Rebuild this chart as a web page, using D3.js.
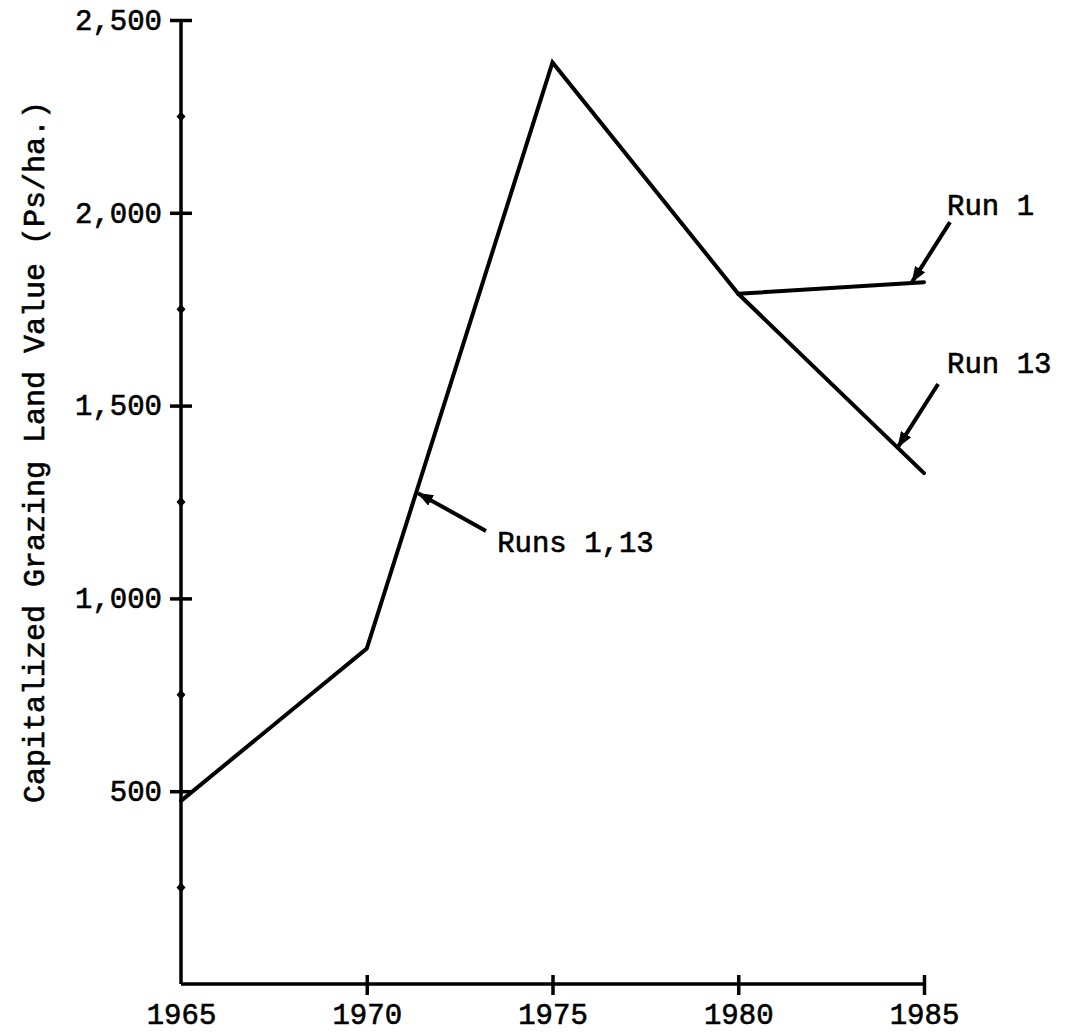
<!DOCTYPE html>
<html>
<head>
<meta charset="utf-8">
<script src="https://cdn.jsdelivr.net/npm/d3@7"></script>
<style>
  html, body { margin: 0; padding: 0; background: #fff; }
  svg { display: block; }
  text { font-family: "Liberation Mono", "DejaVu Sans Mono", monospace; fill: #000; }
</style>
</head>
<body>
<svg id="chart" width="1065" height="1036"></svg>
<script>
// Years on the horizontal axis
const years = [1965, 1970, 1975, 1980, 1985];
// Shared path of both runs up to 1980 (Ps/ha.)
const sharedValues = [475, 870, 2390, 1790];
// Values after 1980 for each run
const run1Tail = [1790, 1820];
const run13Tail = [1790, 1325];
const tailYears = [1980, 1985];

// Axis tick values
const yMajorTicks = [500, 1000, 1500, 2000, 2500];
const yMinorTicks = [250, 750, 1250, 1750, 2250];
const xTicks = [1965, 1970, 1975, 1980, 1985];

// Callouts: label text, label anchor, arrow tail and arrow head in data units
const calloutLabels = ["Runs 1,13", "Run 1", "Run 13"];
const calloutText = [[1973.51, 1120], [1985.62, 1994], [1985.62, 1585]];
const calloutTail = [[1973.21, 1175], [1985.70, 1976], [1985.38, 1556]];
const calloutHead = [[1971.38, 1273], [1984.68, 1821], [1984.30, 1393]];

const svg = d3.select("#chart");

const x = d3.scaleLinear().domain([1965, 1985]).range([181, 924]);
const y = d3.scaleLinear().domain([0, 2500]).range([984, 20]);

const ink = "#000";
const labelSize = 29;

// Arrowhead marker
svg.append("defs").append("marker")
  .attr("id", "arrow")
  .attr("viewBox", "0 0 16 12")
  .attr("refX", 15).attr("refY", 6)
  .attr("markerWidth", 16).attr("markerHeight", 12)
  .attr("markerUnits", "userSpaceOnUse")
  .attr("orient", "auto")
  .append("path")
  .attr("d", "M0,0 L16,6 L0,12 Z")
  .attr("fill", ink);

// Y axis
const yAxis = d3.axisLeft(y).tickValues(yMajorTicks).tickSize(10).tickPadding(10)
  .tickFormat(d3.format(","));
const gy = svg.append("g").attr("transform", `translate(${x(1965)},0)`).call(yAxis);
gy.select(".domain").attr("stroke", ink).attr("stroke-width", 3.5)
  .attr("d", `M0,${y(0)}V${y(2500)}`);
gy.selectAll(".tick line").attr("x1", 11).attr("x2", -11)
  .attr("stroke", ink).attr("stroke-width", 3.5);
gy.selectAll(".tick text")
  .attr("font-size", labelSize).attr("x", -19)
  .style("stroke", ink).style("stroke-width", 0.6);

// Minor tick dots on the y axis
svg.append("g").selectAll("path").data(yMinorTicks).join("path")
  .attr("transform", d => `translate(${x(1965)},${y(d)})`)
  .attr("d", "M0,-5 L4.5,0 L0,5 L-4.5,0 Z")
  .attr("fill", ink);

// X axis
const xAxis = d3.axisBottom(x).tickValues(xTicks).tickSize(10).tickPadding(14)
  .tickFormat(d3.format("d"));
const gx = svg.append("g").attr("transform", `translate(0,${y(0)})`).call(xAxis);
gx.select(".domain").attr("stroke", ink).attr("stroke-width", 3.5)
  .attr("d", `M${x(1965)},0H${x(1985)}`);
gx.selectAll(".tick line").attr("y1", -9).attr("y2", 11)
  .attr("stroke", ink).attr("stroke-width", 3.5)
  .filter(d => d === 1965).remove();
gx.selectAll(".tick text")
  .attr("font-size", labelSize)
  .attr("y", 40).attr("dy", null)
  .style("stroke", ink).style("stroke-width", 0.6);

// Y axis title
svg.append("text")
  .attr("transform", `translate(44,452) rotate(-90)`)
  .attr("text-anchor", "middle")
  .attr("font-size", 30)
  .style("stroke", ink).style("stroke-width", 0.6)
  .text("Capitalized Grazing Land Value (Ps/ha.)");

// Data lines
const line = d3.line().x(d => x(d[0])).y(d => y(d[1])).curve(d3.curveLinear);
const sharedPts = years.slice(0, 4).map((yr, i) => [yr, sharedValues[i]]);
const run1Pts = tailYears.map((yr, i) => [yr, run1Tail[i]]);
const run13Pts = tailYears.map((yr, i) => [yr, run13Tail[i]]);

svg.append("g").selectAll("path")
  .data([sharedPts.concat([run13Pts[1]]), run1Pts])
  .join("path")
  .attr("d", line)
  .attr("fill", "none")
  .attr("stroke", ink)
  .attr("stroke-width", 4)
  .attr("stroke-linejoin", "miter")
  .attr("stroke-linecap", "round");

// Callout arrows and labels
const callouts = calloutLabels.map((t, i) => ({
  text: t, at: calloutText[i], tail: calloutTail[i], head: calloutHead[i]
}));
svg.append("g").selectAll("line").data(callouts).join("line")
  .attr("x1", d => x(d.tail[0])).attr("y1", d => y(d.tail[1]))
  .attr("x2", d => x(d.head[0])).attr("y2", d => y(d.head[1]))
  .attr("stroke", ink).attr("stroke-width", 4)
  .attr("marker-end", "url(#arrow)");
svg.append("g").selectAll("text").data(callouts).join("text")
  .attr("x", d => x(d.at[0])).attr("y", d => y(d.at[1]))
  .attr("font-size", labelSize)
  .style("stroke", ink).style("stroke-width", 0.6)
  .text(d => d.text);
</script>
</body>
</html>
